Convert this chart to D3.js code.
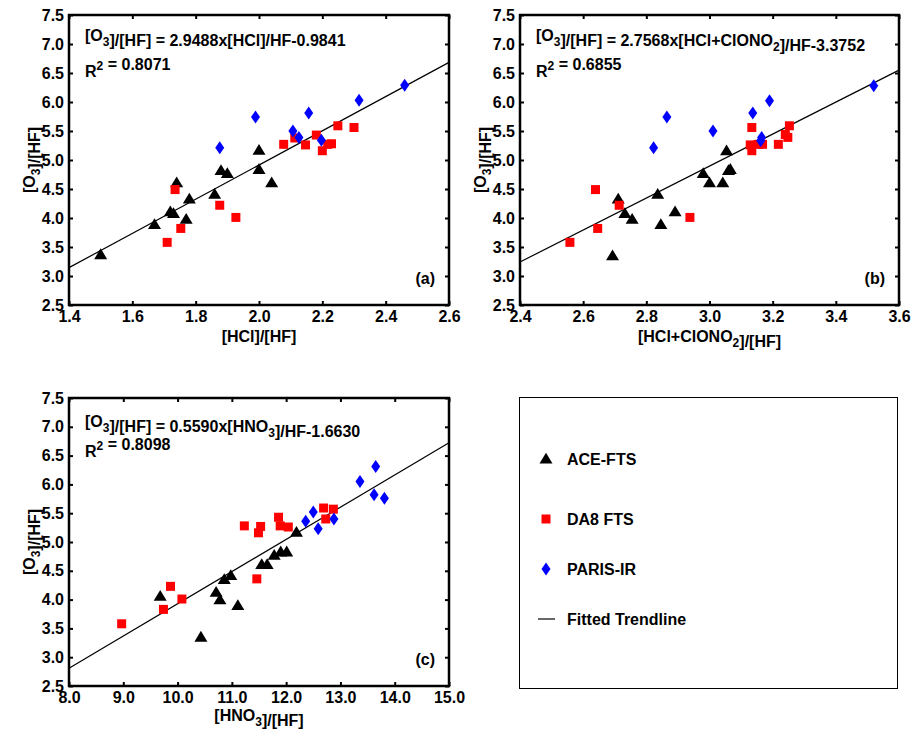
<!DOCTYPE html>
<html><head><meta charset="utf-8">
<script src="https://cdn.jsdelivr.net/npm/d3@7"></script>
<style>
html,body{margin:0;padding:0;background:#fff;}
svg text{font-family:"Liberation Sans",Arial,sans-serif;font-weight:bold;fill:#000;}
</style></head>
<body><svg id="chart" width="911" height="730"></svg>
<script>
// ---------- DATA ----------
const yTicks = [2.5,3.0,3.5,4.0,4.5,5.0,5.5,6.0,6.5,7.0,7.5];
const xTicksA = [1.4,1.6,1.8,2.0,2.2,2.4,2.6];
const xTicksB = [2.4,2.6,2.8,3.0,3.2,3.4,3.6];
const xTicksC = [8,9,10,11,12,13,14,15];

// Panel (a): [HCl]/[HF]
const aceA_x = [1.50,1.67,1.72,1.73,1.74,1.78,1.77,1.86,1.88,1.90,2.00,2.04,2.00];
const aceA_y = [3.37,3.89,4.11,4.08,4.61,4.33,3.98,4.41,4.82,4.77,4.84,4.61,5.17];
const da8A_x = [1.71,1.735,1.753,1.876,1.927,2.078,2.113,2.147,2.181,2.200,2.217,2.229,2.249,2.300];
const da8A_y = [3.58,4.49,3.82,4.22,4.01,5.27,5.38,5.26,5.43,5.16,5.27,5.28,5.59,5.56];
const parA_x = [1.876,1.989,2.107,2.126,2.157,2.197,2.316,2.460];
const parA_y = [5.21,5.74,5.50,5.39,5.81,5.34,6.03,6.29];

// Panel (b): [HCl+ClONO2]/[HF]
const aceB_x = [2.693,2.711,2.732,2.755,2.836,2.846,2.891,2.980,3.000,3.042,3.060,3.066,3.054];
const aceB_y = [3.35,4.33,4.08,3.98,4.41,3.89,4.11,4.77,4.61,4.61,4.82,4.84,5.16];
const da8B_x = [2.558,2.639,2.646,2.714,2.938,3.134,3.129,3.134,3.154,3.168,3.218,3.240,3.248,3.253];
const da8B_y = [3.58,4.49,3.82,4.22,4.01,5.56,5.26,5.16,5.27,5.27,5.27,5.44,5.39,5.59];
const parB_x = [2.823,2.865,3.011,3.137,3.165,3.162,3.190,3.520];
const parB_y = [5.21,5.74,5.50,5.81,5.39,5.33,6.02,6.28];

// Panel (c): [HNO3]/[HF]
const aceC_x = [9.68,10.43,10.71,10.78,10.86,10.98,11.11,11.55,11.65,11.78,11.90,12.01,12.19];
const aceC_y = [4.06,3.35,4.13,4.00,4.35,4.42,3.90,4.61,4.61,4.77,4.83,4.83,5.17];
const da8C_x = [8.97,9.74,9.87,10.08,11.46,11.23,11.49,11.53,11.86,11.89,12.04,12.69,12.73,12.87];
const da8C_y = [3.58,3.83,4.23,4.01,4.36,5.28,5.16,5.27,5.43,5.28,5.26,5.59,5.40,5.57];
const parC_x = [12.36,12.50,12.59,12.88,13.36,13.65,13.62,13.81];
const parC_y = [5.36,5.52,5.23,5.40,6.05,6.31,5.82,5.76];

// Fits: slope, intercept, R2
const fitA = [2.9488,-0.9841], r2A = "0.8071";
const fitB = [2.7568,-3.3752], r2B = "0.6855";
const fitC = [0.5590,-1.6630], r2C = "0.8098";

const legendLabels = ["ACE-FTS","DA8 FTS","PARIS-IR","Fitted Trendline"];

// ---------- DRAW ----------
const svg = d3.select("#chart");
const FONT = 16, TICKFONT = 16, TITLEFONT = 16;

const triPath = "M0,-6.2L6.5,4.6L-6.5,4.6Z";
const sqPath = "M-4.5,-4.5H4.5V4.5H-4.5Z";
const diaPath = "M0,-6.5L4.5,0L0,6.5L-4.5,0Z";

function richText(g, x, y, parts, anchor, size) {
  size = size || FONT;
  const t = g.append("text").attr("x", x).attr("y", y).attr("font-size", size)
    .attr("text-anchor", anchor || "start");
  parts.forEach(p => {
    if (typeof p === "string") t.append("tspan").text(p);
    else if (p.sub) { t.append("tspan").attr("dy", 5).attr("font-size", size * 0.75).text(p.sub);
                      t.append("tspan").attr("dy", -5).text(""); }
    else if (p.sup) { t.append("tspan").attr("dy", -7).attr("font-size", size * 0.75).text(p.sup);
                      t.append("tspan").attr("dy", 7).text(""); }
  });
  return t;
}

function panel(cfg) {
  const g = svg.append("g");
  const x = d3.scaleLinear().domain(cfg.xdom).range([cfg.left, cfg.left + cfg.w]);
  const y = d3.scaleLinear().domain([2.5, 7.5]).range([cfg.top + cfg.h, cfg.top]);

  // axes (inward ticks)
  const fmt = d3.format(".1f");
  g.append("g").attr("transform", `translate(0,${cfg.top + cfg.h})`)
    .call(d3.axisBottom(x).tickValues(cfg.xticks).tickSize(-4).tickPadding(6).tickFormat(fmt));
  g.append("g").attr("transform", `translate(0,${cfg.top})`)
    .call(d3.axisTop(x).tickValues(cfg.xticks).tickSize(-4).tickFormat(""));
  g.append("g").attr("transform", `translate(${cfg.left},0)`)
    .call(d3.axisLeft(y).tickValues(yTicks).tickSize(-4).tickPadding(5).tickFormat(fmt));
  g.append("g").attr("transform", `translate(${cfg.left + cfg.w},0)`)
    .call(d3.axisRight(y).tickValues(yTicks).tickSize(-4).tickFormat(""));
  g.selectAll(".domain").remove();
  g.selectAll(".tick line").attr("stroke", "#000").attr("stroke-width", 2);
  g.selectAll(".tick text").attr("font-size", TICKFONT).attr("font-family", "Liberation Sans, Arial, sans-serif")
    .attr("font-weight", "bold").attr("fill", "#000");
  g.append("rect").attr("x", cfg.left).attr("y", cfg.top).attr("width", cfg.w).attr("height", cfg.h)
    .attr("fill", "none").attr("stroke", "#000").attr("stroke-width", 2.5);

  // fitted line
  const [m, b] = cfg.fit;
  g.append("line").attr("x1", x(cfg.xdom[0])).attr("y1", y(m * cfg.xdom[0] + b))
    .attr("x2", x(cfg.xdom[1])).attr("y2", y(m * cfg.xdom[1] + b))
    .attr("stroke", "#000").attr("stroke-width", 1.2);

  // points
  const pts = (xs, ys, path, color) => g.append("g").selectAll("path")
    .data(xs.map((v, i) => [v, ys[i]])).join("path")
    .attr("transform", d => `translate(${x(d[0])},${y(d[1])})`)
    .attr("d", path).attr("fill", color);
  pts(cfg.ace[0], cfg.ace[1], triPath, "#000");
  pts(cfg.da8[0], cfg.da8[1], sqPath, "#ff0000");
  pts(cfg.par[0], cfg.par[1], diaPath, "#0000ff");

  // equation text
  richText(g, cfg.left + 16, cfg.top + cfg.eqDy, cfg.eq);
  richText(g, cfg.left + 16, cfg.top + cfg.r2Dy, ["R", {sup: "2"}, " = " + cfg.r2]);

  // panel label
  g.append("text").attr("x", cfg.left + cfg.w - 14).attr("y", cfg.top + cfg.h - 21)
    .attr("text-anchor", "end").attr("font-size", FONT).text(cfg.label);

  // axis titles
  richText(g, cfg.left + cfg.w / 2, cfg.top + cfg.h + cfg.xtDy, cfg.xtitle, "middle", TITLEFONT);
  const yt = richText(g, 0, 0, ["[O", {sub: "3"}, "]/[HF]"], "middle", TITLEFONT);
  yt.attr("transform", `translate(${cfg.left - 34},${cfg.top + cfg.h / 2}) rotate(-90)`);
}

panel({left: 69, top: 15, w: 380, h: 290, xdom: [1.4, 2.6], xticks: xTicksA,
  ace: [aceA_x, aceA_y], da8: [da8A_x, da8A_y], par: [parA_x, parA_y], fit: fitA, r2: r2A,
  eq: ["[O", {sub: "3"}, "]/[HF] = 2.9488x[HCl]/HF-0.9841"], label: "(a)",
  xtitle: ["[HCl]/[HF]"], eqDy: 26, r2Dy: 62, xtDy: 37});
panel({left: 520, top: 15, w: 379, h: 290, xdom: [2.4, 3.6], xticks: xTicksB,
  ace: [aceB_x, aceB_y], da8: [da8B_x, da8B_y], par: [parB_x, parB_y], fit: fitB, r2: r2B,
  eq: ["[O", {sub: "3"}, "]/[HF] = 2.7568x[HCl+ClONO", {sub: "2"}, "]/HF-3.3752"], label: "(b)",
  xtitle: ["[HCl+ClONO", {sub: "2"}, "]/[HF]"], eqDy: 26, r2Dy: 62, xtDy: 37});
panel({left: 69, top: 398, w: 380, h: 288, xdom: [8, 15], xticks: xTicksC,
  ace: [aceC_x, aceC_y], da8: [da8C_x, da8C_y], par: [parC_x, parC_y], fit: fitC, r2: r2C,
  eq: ["[O", {sub: "3"}, "]/[HF] = 0.5590x[HNO", {sub: "3"}, "]/HF-1.6630"], label: "(c)",
  xtitle: ["[HNO", {sub: "3"}, "]/[HF]"], eqDy: 29, r2Dy: 59, xtDy: 35});

// legend
const lg = svg.append("g");
lg.append("rect").attr("x", 519.5).attr("y", 397.5).attr("width", 378).attr("height", 291)
  .attr("fill", "none").attr("stroke", "#000").attr("stroke-width", 1);
const legY = [459, 519, 569, 619];
const legShapes = [triPath, sqPath, diaPath, null];
const legColors = ["#000", "#ff0000", "#0000ff", "#000"];
legendLabels.forEach((lab, i) => {
  if (legShapes[i]) lg.append("path").attr("d", legShapes[i]).attr("fill", legColors[i])
    .attr("transform", `translate(546,${legY[i]})`);
  else lg.append("line").attr("x1", 538).attr("x2", 555).attr("y1", legY[i]).attr("y2", legY[i])
    .attr("stroke", "#000").attr("stroke-width", 1.2);
  lg.append("text").attr("x", 567).attr("y", legY[i] + 6).attr("font-size", FONT).text(lab);
});
</script></body></html>
